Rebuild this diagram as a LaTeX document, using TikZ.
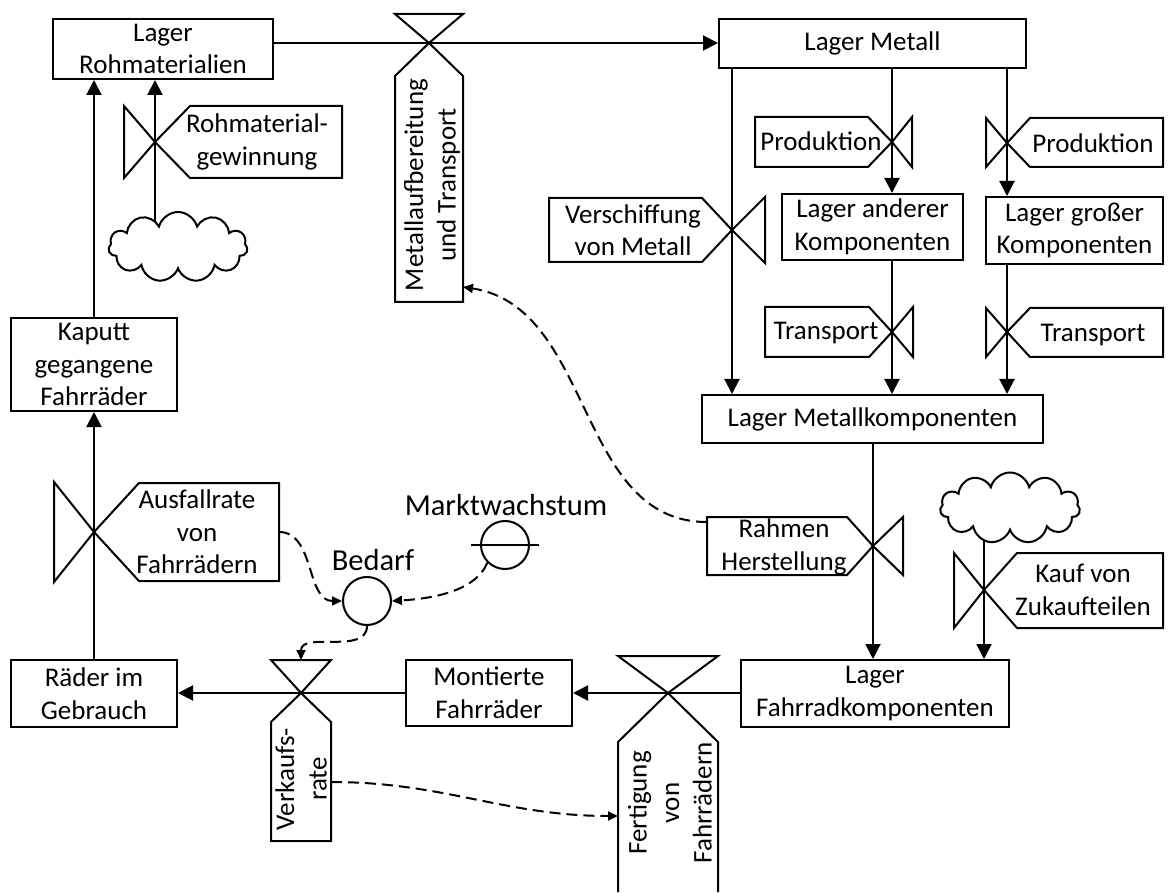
\documentclass[tikz,border=0pt]{standalone}
\usepackage{fontspec}
\setmainfont{Carlito}
\usetikzlibrary{arrows.meta,shapes.symbols}
\pgfdeclarelayer{back}
\pgfdeclarelayer{bg}
\pgfsetlayers{back,bg,main}
\begin{document}
\begin{tikzpicture}[x=1pt,y=-1pt,
  every node/.style={font=\fontsize{27}{32.5}\selectfont, inner sep=0pt},
  thick line/.style={line width=2pt},
  stock/.style={draw, thick line, fill=white, align=center},
  lbl/.style={align=center},
  big/.style={font=\fontsize{30.5}{36}\selectfont},
  aux/.style={draw, thick line, circle, minimum size=48pt},
  flow/.style={thick line, -{Triangle[length=15pt,width=15pt]}},
  dep/.style={thick line, dash pattern=on 11pt off 6pt, -{Triangle[length=10pt,width=9pt]}},
  valve/.style={draw, thick line, line join=miter},
  cloudy/.style={cloud, cloud puffs=11, aspect=2, draw, thick line, fill=white, minimum width=139pt, minimum height=70pt}
]
\begin{pgfonlayer}{back}
\useasboundingbox[fill=white] (0,0) rectangle (1168,886);
\end{pgfonlayer}

% valve centres
\coordinate (vRoh) at (155,142);
\coordinate (vAus) at (94,532);
\coordinate (vMet) at (429,43);
\coordinate (vVer) at (732,230);
\coordinate (vPr1) at (892,142);
\coordinate (vTr1) at (892,332);
\coordinate (vPr2) at (1007,143);
\coordinate (vTr2) at (1007,332);
\coordinate (vRah) at (873,546);
\coordinate (vKau) at (984,590);
\coordinate (vFer) at (668,693);
\coordinate (vVk) at (301,693);

% connection points of labels
\coordinate (ausR) at (279,532);
\coordinate (vkTop) at (301,660);
\coordinate (vkR) at (331,782);
\coordinate (ferL) at (618,816);
\coordinate (rahL) at (707,522);
\coordinate (metR) at (463,287);

% stocks
\node[stock, minimum width=220pt, minimum height=60pt] (lr) at (163,49) {Lager\\Rohmaterialien};
\node[stock, minimum width=307pt, minimum height=49pt] (lm) at (872.5,43.5) {Lager Metall};
\node[stock, minimum width=181pt, minimum height=66pt] (lak) at (872.5,227) {Lager anderer\\Komponenten};
\node[stock, minimum width=177pt, minimum height=67pt] (lgk) at (1074.5,230.5) {Lager großer\\Komponenten};
\node[stock, minimum width=341pt, minimum height=48pt] (lmk) at (872.5,419) {Lager Metallkomponenten};
\node[stock, minimum width=268pt, minimum height=67pt] (lfk) at (875,693.5) {Lager\\Fahrradkomponenten};
\node[stock, minimum width=166pt, minimum height=66pt] (mf) at (489,693) {Montierte\\Fahrräder};
\node[stock, minimum width=166pt, minimum height=67pt] (rg) at (94,693.5) {Räder im\\Gebrauch};
\node[stock, minimum width=166pt, minimum height=93pt] (kg) at (94,364.5) {Kaputt\\gegangene\\Fahrräder};

% clouds
\node[cloudy] (cl1) at (178,247) {};
\node[cloudy, minimum width=140pt, minimum height=71pt] (cl2) at (1010,508) {};

% auxiliaries
\node[aux] (bed) at (367,601) {};
\node[big, anchor=base] (tbed) at (373,570) {Bedarf};
\node[aux] (mw) at (505,545) {};
\draw[thick line] ([xshift=-9pt]mw.west) -- ([xshift=9pt]mw.east);
\node[big, anchor=base] (tmw) at (506,515) {Marktwachstum};

% valves with labels
\draw[valve] (vRoh) -- (124,106) -- (124,178) -- cycle;
\draw[valve] (vRoh) -- (190,106) -- (342,106) -- (342,178) -- (190,178) -- cycle;
\node[lbl] (tRoh) at (257,142) {Rohmaterial-\\gewinnung};

\draw[valve] (vAus) -- (54,482) -- (54,582) -- cycle;
\draw[valve] (vAus) -- (139,483) -- (279,483) -- (279,581) -- (139,581) -- cycle;
\node[lbl] (tAus) at (197,532) {Ausfallrate\\von\\Fahrrädern};

\draw[valve] (vVer) -- (765,197) -- (765,263) -- cycle;
\draw[valve] (vVer) -- (702,198) -- (549,198) -- (549,262) -- (702,262) -- cycle;
\node[lbl] (tVer) at (633,230) {Verschiffung\\von Metall};

\draw[valve] (vPr1) -- (912,117) -- (912,167) -- cycle;
\draw[valve] (vPr1) -- (868,117) -- (755,117) -- (755,167) -- (868,167) -- cycle;
\node[lbl] (tPr1) at (821,141) {Produktion};

\draw[valve] (vTr1) -- (913,307) -- (913,357) -- cycle;
\draw[valve] (vTr1) -- (869,307) -- (765,307) -- (765,357) -- (869,357) -- cycle;
\node[lbl] (tTr1) at (826,333) {Transport};

\draw[valve] (vPr2) -- (986,118) -- (986,167) -- cycle;
\draw[valve] (vPr2) -- (1030,118) -- (1163,118) -- (1163,167) -- (1030,167) -- cycle;
\node[lbl] (tPr2) at (1093,143) {Produktion};

\draw[valve] (vTr2) -- (986,308) -- (986,357) -- cycle;
\draw[valve] (vTr2) -- (1030,308) -- (1163,308) -- (1163,357) -- (1030,357) -- cycle;
\node[lbl] (tTr2) at (1093,335) {Transport};

\draw[valve] (vRah) -- (903,517) -- (903,575) -- cycle;
\draw[valve] (vRah) -- (847,517) -- (707,517) -- (707,575) -- (847,575) -- cycle;
\node[lbl] (tRah) at (784,547) {Rahmen\\Herstellung};

\draw[valve] (vKau) -- (954,553) -- (954,628) -- cycle;
\draw[valve] (vKau) -- (1017,553) -- (1163,553) -- (1163,628) -- (1017,628) -- cycle;
\node[lbl] (tKau) at (1083,590) {Kauf von\\Zukaufteilen};

\draw[valve] (vMet) -- (395,14) -- (463,14) -- cycle;
\draw[valve] (vMet) -- (463,76) -- (463,302) -- (395,302) -- (395,76) -- cycle;
\node[lbl, rotate=90] (tMet) at (432,185) {Metallaufbereitung\\und Transport};

\draw[valve] (vVk) -- (271,660) -- (331,660) -- cycle;
\draw[valve] (vVk) -- (331,722) -- (331,841) -- (271,841) -- (271,722) -- cycle;
\node[lbl, rotate=90] (tVk) at (301,779) {Verkaufs-\\rate};

\draw[valve] (vFer) -- (618,656) -- (718,656) -- cycle;
\draw[valve] (618,892) -- (618,742) -- (vFer) -- (718,742) -- (718,892);
\node[lbl, rotate=90] (tFer) at (670,803) {Fertigung\\von\\Fahrrädern};

% flows
\begin{pgfonlayer}{bg}
\draw[flow] (lr.east |- vMet) -- (lm.west |- vMet);
\draw[flow] (lm.south -| vVer) -- (lmk.north -| vVer);
\draw[flow] (lm.south -| vPr1) -- (lak.north -| vPr1);
\draw[flow] (lak.south -| vTr1) -- (lmk.north -| vTr1);
\draw[flow] (lm.south -| vPr2) -- (lgk.north -| vPr2);
\draw[flow] (lgk.south -| vTr2) -- (lmk.north -| vTr2);
\draw[flow] (lmk.south -| vRah) -- (lfk.north -| vRah);
\draw[flow] (cl2.center -| vKau) -- (lfk.north -| vKau);
\draw[flow] (lfk.west |- vFer) -- (mf.east |- vFer);
\draw[flow] (mf.west |- vVk) -- (rg.east |- vVk);
\draw[flow] (rg.north -| vAus) -- (kg.south -| vAus);
\draw[flow] (kg.north) -- (lr.south -| kg.north);
\draw[flow] (cl1.center -| vRoh) -- (lr.south -| vRoh);
\end{pgfonlayer}

% information links
\draw[dep] (ausR) .. controls +(36,0) and +(-36,0) .. (bed.west);
\draw[dep] (mw.225) .. controls +(-10,25) and +(50,-3) .. (bed.east);
\draw[dep] (bed.south) .. controls +(0,29) and +(0,-29) .. (vkTop);
\draw[dep] (vkR) .. controls +(113,0) and +(-113,0) .. (ferL);
\draw[dep] (rahL) .. controls +(-131,0) and +(131,20) .. (metR);
\end{tikzpicture}
\end{document}
